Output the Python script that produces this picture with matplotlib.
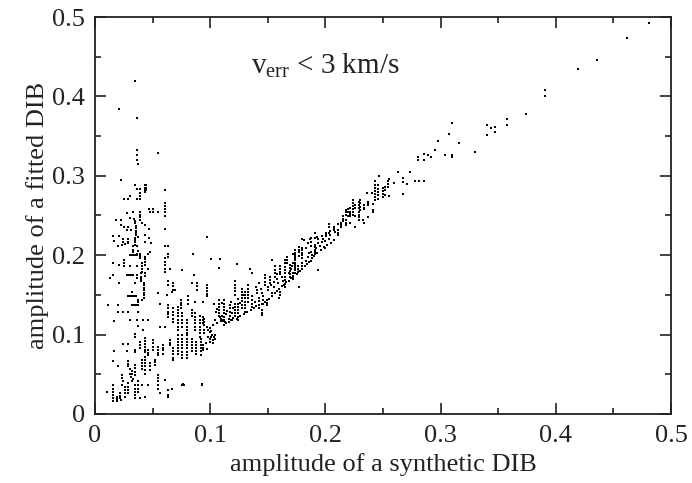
import matplotlib
matplotlib.use("Agg")
import matplotlib.pyplot as plt
from matplotlib.ticker import MultipleLocator, FuncFormatter

plt.rcParams['font.family'] = ['Liberation Serif', 'DejaVu Serif']
plt.rcParams['mathtext.fontset'] = 'custom'
plt.rcParams['mathtext.rm'] = 'Liberation Serif'
plt.rcParams['mathtext.it'] = 'Liberation Serif'

# ---- data: (synthetic amplitude, fitted amplitude) ----
outlier_pts = [
    (0.0347,0.419),(0.0208,0.384),(0.0362,0.373),(0.0547,0.329),(0.0362,0.332),(0.0362,0.326),
    (0.0362,0.320),(0.0376,0.315),(0.0223,0.295),
]

cloud_pts = [
    (0.0226,0.295),(0.0347,0.288),(0.0362,0.284),(0.0390,0.284),(0.0434,0.288),(0.0434,0.285),(0.0434,0.282),
    (0.0434,0.279),(0.0443,0.288),(0.0443,0.285),(0.0443,0.282),(0.0608,0.282),(0.0304,0.275),(0.0255,0.271),
    (0.0284,0.271),(0.0362,0.271),(0.0390,0.271),(0.0390,0.278),(0.0390,0.275),(0.0608,0.266),(0.0608,0.262),
    (0.0608,0.258),(0.0608,0.254),(0.0608,0.249),(0.0469,0.258),(0.0500,0.258),(0.0544,0.255),(0.0333,0.255),
    (0.0390,0.255),(0.0390,0.251),(0.0390,0.248),(0.0390,0.244),(0.0275,0.253),(0.0304,0.247),(0.0179,0.244),
    (0.0226,0.244),(0.0340,0.246),(0.0345,0.243),(0.0350,0.240),(0.0355,0.237),(0.0357,0.234),(0.0357,0.231),
    (0.0357,0.228),(0.0357,0.225),(0.0347,0.222),(0.0347,0.219),(0.0347,0.216),(0.0347,0.213),(0.0405,0.240),
    (0.0434,0.238),(0.0226,0.238),(0.0255,0.236),(0.0289,0.235),(0.0275,0.232),(0.0313,0.232),(0.0472,0.233),
    (0.0608,0.233),(0.0159,0.224),(0.0208,0.224),(0.0246,0.221),(0.0246,0.217),(0.0284,0.221),(0.0284,0.217),
    (0.0376,0.223),(0.0434,0.225),(0.0469,0.222),(0.0165,0.218),(0.0200,0.211),(0.0235,0.213),(0.0260,0.214),
    (0.0289,0.215),(0.0333,0.211),(0.0333,0.207),(0.0362,0.212),(0.0434,0.217),(0.0486,0.215),(0.0608,0.211),
    (0.0637,0.211),(0.0477,0.204),(0.0362,0.202),(0.0854,0.202),(0.0970,0.223),(0.0504,0.255),(0.0477,0.254),
    (0.0304,0.200),(0.0318,0.200),(0.0333,0.200),(0.0347,0.200),(0.0362,0.200),(0.0333,0.204),(0.0376,0.205),
    (0.0390,0.202),(0.0390,0.199),(0.0390,0.196),(0.0434,0.198),(0.0434,0.195),(0.0434,0.191),(0.0434,0.188),
    (0.0463,0.202),(0.0631,0.202),(0.0631,0.198),(0.0159,0.190),(0.0208,0.188),(0.0255,0.194),(0.0255,0.190),
    (0.0255,0.186),(0.0304,0.186),(0.0362,0.186),(0.0405,0.190),(0.0405,0.186),(0.0405,0.183),(0.0405,0.179),
    (0.0463,0.183),(0.0608,0.196),(0.0608,0.192),(0.0608,0.188),(0.0608,0.183),(0.0608,0.179),(0.0651,0.183),
    (0.0758,0.181),(0.0130,0.171),(0.0159,0.175),(0.0275,0.175),(0.0289,0.175),(0.0304,0.175),(0.0318,0.175),
    (0.0333,0.175),(0.0362,0.175),(0.0362,0.171),(0.0400,0.177),(0.0400,0.173),(0.0400,0.170),(0.0400,0.167),
    (0.0434,0.177),(0.0434,0.174),(0.0208,0.165),(0.0347,0.165),(0.0428,0.165),(0.0428,0.162),(0.0428,0.159),
    (0.0428,0.156),(0.0428,0.153),(0.0428,0.150),(0.0428,0.146),(0.0637,0.167),(0.0637,0.163),(0.0680,0.165),
    (0.0680,0.161),(0.0680,0.156),(0.0859,0.175),(0.0839,0.165),(0.0883,0.165),(0.0883,0.161),(0.0883,0.156),
    (0.0290,0.148),(0.0305,0.148),(0.0320,0.148),(0.0340,0.148),(0.0360,0.148),(0.0324,0.154),(0.0376,0.144),
    (0.0376,0.141),(0.0376,0.137),(0.0405,0.144),(0.0550,0.152),(0.0622,0.150),(0.0666,0.154),(0.0694,0.156),
    (0.0116,0.137),(0.0197,0.137),(0.0318,0.137),(0.0333,0.137),(0.0347,0.137),(0.0362,0.137),(0.0203,0.129),
    (0.0246,0.129),(0.0290,0.129),(0.0376,0.129),(0.0564,0.139),(0.0637,0.137),(0.0637,0.133),(0.0637,0.129),
    (0.0637,0.126),(0.0637,0.122),(0.0168,0.117),(0.0304,0.118),(0.0362,0.118),(0.0420,0.118),(0.0457,0.118),
    (0.0370,0.111),(0.0347,0.101),(0.0420,0.106),(0.0564,0.110),(0.0608,0.110),
    (0.1085,0.195),(0.1229,0.189),(0.1938,0.181),(0.1600,0.146),
]

band_low_pts = [
    (0.0680,0.133),(0.0680,0.129),(0.0680,0.125),(0.0680,0.120),(0.0680,0.116),
    (0.0718,0.135),(0.0718,0.131),(0.0718,0.127),(0.0718,0.123),(0.0718,0.118),(0.0718,0.114),(0.0718,0.110),(0.0718,0.106),
    (0.0746,0.144),(0.0746,0.140),(0.0746,0.137),(0.0746,0.133),
    (0.0758,0.127),(0.0758,0.123),(0.0758,0.118),(0.0758,0.114),(0.0758,0.110),
    (0.0796,0.118),(0.0796,0.114),(0.0796,0.110),(0.0796,0.106),(0.0796,0.102),(0.0796,0.099),(0.0796,0.095),
    (0.0810,0.148),(0.0810,0.144),(0.0810,0.139),
    (0.0839,0.131),(0.0839,0.127),(0.0839,0.123),
    (0.0868,0.141),(0.0868,0.127),(0.0868,0.122),(0.0868,0.118),(0.0868,0.114),(0.0868,0.110),(0.0868,0.106),
    (0.0911,0.123),(0.0911,0.118),(0.0911,0.114),(0.0911,0.110),(0.0911,0.106),(0.0911,0.102),(0.0911,0.097),
    (0.0940,0.141),(0.0949,0.120),(0.0949,0.116),(0.0949,0.112),(0.0949,0.106),(0.0949,0.102),
    (0.0347,0.097),(0.0246,0.088),(0.0283,0.088),(0.0168,0.079),(0.0275,0.079),(0.0347,0.081),(0.0347,0.078),
    (0.0390,0.091),(0.0390,0.087),(0.0390,0.083),
    (0.0434,0.096),(0.0434,0.092),(0.0434,0.088),(0.0434,0.085),(0.0434,0.081),(0.0434,0.078),
    (0.0463,0.081),(0.0463,0.077),(0.0463,0.074),
    (0.0500,0.093),(0.0500,0.089),(0.0500,0.085),(0.0500,0.081),
    (0.0544,0.085),(0.0544,0.081),(0.0544,0.077),(0.0544,0.074),
    (0.0593,0.087),(0.0593,0.083),(0.0593,0.080),(0.0593,0.076),
    (0.0651,0.093),(0.0651,0.090),(0.0651,0.087),
    (0.0680,0.083),(0.0680,0.079),(0.0680,0.075),(0.0680,0.071),(0.0680,0.068),
    (0.0718,0.099),(0.0718,0.095),(0.0718,0.091),(0.0718,0.087),(0.0718,0.083),(0.0718,0.079),(0.0718,0.076),
    (0.0752,0.099),(0.0752,0.095),(0.0752,0.091),(0.0752,0.087),(0.0752,0.083),(0.0752,0.078),(0.0752,0.074),(0.0752,0.070),
    (0.0796,0.091),(0.0796,0.087),(0.0796,0.083),(0.0796,0.078),(0.0796,0.074),(0.0796,0.070),
    (0.0839,0.095),(0.0839,0.091),(0.0839,0.087),(0.0839,0.083),(0.0839,0.079),
    (0.0877,0.091),(0.0877,0.087),(0.0877,0.083),(0.0877,0.079),(0.0877,0.076),
    (0.0920,0.095),(0.0920,0.091),(0.0920,0.087),(0.0920,0.083),(0.0920,0.079),(0.0920,0.074),
    (0.0940,0.087),(0.0940,0.083),
    (0.0153,0.067),(0.0203,0.060),(0.0289,0.067),(0.0289,0.063),(0.0289,0.060),
    (0.0347,0.062),(0.0347,0.058),(0.0347,0.053),(0.0347,0.049),
    (0.0405,0.068),(0.0405,0.064),(0.0405,0.060),(0.0405,0.057),
    (0.0434,0.072),(0.0434,0.068),(0.0434,0.064),(0.0434,0.060),(0.0434,0.055),(0.0434,0.051),
    (0.0477,0.064),(0.0477,0.060),(0.0477,0.055),
    (0.0521,0.068),(0.0521,0.065),(0.0521,0.062),
    (0.0550,0.049),(0.0550,0.045),(0.0550,0.041),(0.0550,0.036),(0.0550,0.032),
    (0.0608,0.043),(0.0665,0.032),(0.0758,0.037),(0.0637,0.024),(0.0564,0.026),
    (0.0305,0.057),(0.0318,0.054),(0.0325,0.050),(0.0310,0.047),(0.0330,0.044),(0.0318,0.041),(0.0300,0.050),
    (0.0231,0.049),(0.0231,0.045),(0.0245,0.041),(0.0231,0.037),
    (0.0101,0.028),
    (0.0159,0.036),(0.0159,0.032),(0.0159,0.028),(0.0159,0.024),(0.0159,0.020),(0.0159,0.016),
    (0.0188,0.022),(0.0188,0.019),(0.0188,0.016),
    (0.0217,0.026),(0.0217,0.023),(0.0217,0.020),(0.0230,0.018),
    (0.0260,0.034),(0.0260,0.030),(0.0260,0.026),(0.0260,0.022),
    (0.0289,0.039),(0.0289,0.034),(0.0289,0.030),(0.0289,0.026),
    (0.0347,0.036),(0.0347,0.032),(0.0347,0.028),(0.0347,0.024),(0.0347,0.020),
    (0.0376,0.041),(0.0376,0.036),(0.0376,0.032),(0.0376,0.028),
    (0.0405,0.036),(0.0434,0.022),(0.0463,0.036),(0.0390,0.020),
    (0.0761,0.038),(0.0926,0.038),(0.0637,0.030),(0.0773,0.036),(0.0638,0.021),
    (0.0940,0.081),(0.0970,0.082),(0.0980,0.097),(0.0995,0.094),(0.1000,0.091),(0.1010,0.097),
    (0.1027,0.093),(0.1027,0.089),(0.1041,0.099),(0.0960,0.089),(0.0925,0.037),
]

band_mid_pts = [
    (0.1004,0.195),(0.1076,0.184),(0.1345,0.182),(0.1360,0.177),
    (0.0969,0.162),(0.0969,0.159),(0.0969,0.155),(0.0969,0.151),(0.0969,0.148),
    (0.0940,0.141),(0.1033,0.139),
    (0.1080,0.144),(0.1080,0.139),(0.1080,0.135),(0.1080,0.131),(0.1080,0.127),(0.1080,0.123),
    (0.1122,0.144),(0.1122,0.139),(0.1122,0.135),(0.1122,0.131),(0.1122,0.127),(0.1122,0.122),(0.1122,0.118),
    (0.1171,0.137),(0.1171,0.133),(0.1171,0.129),(0.1171,0.123),
    (0.1215,0.167),(0.1215,0.163),(0.1215,0.159),(0.1215,0.155),(0.1215,0.150),
    (0.1215,0.139),(0.1215,0.135),(0.1215,0.131),(0.1215,0.127),(0.1215,0.123),
    (0.1244,0.139),(0.1244,0.135),(0.1244,0.131),(0.1244,0.127),(0.1244,0.122),(0.1244,0.118),
    (0.1273,0.158),(0.1273,0.154),(0.1273,0.150),(0.1273,0.146),(0.1273,0.142),(0.1273,0.137),(0.1273,0.133),
    (0.1302,0.154),(0.1302,0.150),(0.1302,0.146),(0.1302,0.141),(0.1302,0.137),(0.1302,0.133),(0.1302,0.129),
    (0.1331,0.162),(0.1331,0.158),(0.1331,0.154),(0.1331,0.150),(0.1331,0.146),(0.1331,0.141),
    (0.1360,0.148),(0.1360,0.144),(0.1360,0.139),(0.1360,0.135),
    (0.1389,0.141),(0.1403,0.153),
    (0.1426,0.146),(0.1426,0.142),(0.1426,0.137),(0.1426,0.165),
    (0.1446,0.131),(0.1446,0.127),(0.1446,0.125),
    (0.1460,0.148),(0.1460,0.144),(0.1460,0.139),
    (0.1489,0.144),(0.1489,0.140),(0.1489,0.137),
    (0.1475,0.175),(0.1475,0.171),(0.1475,0.166),(0.1475,0.162),
    (0.1519,0.173),(0.1519,0.169),(0.1519,0.165),
    (0.1533,0.194),(0.1533,0.152),
    (0.1562,0.186),(0.1562,0.181),(0.1562,0.177),(0.1562,0.173),
    (0.1606,0.186),(0.1606,0.182),(0.1606,0.179),(0.1606,0.154),(0.1606,0.150),
    (0.1650,0.194),(0.1650,0.190),(0.1650,0.185),(0.1650,0.181),(0.1650,0.177),(0.1650,0.173),
    (0.1650,0.169),(0.1650,0.164),(0.1650,0.160),
    (0.1670,0.198),(0.1670,0.194),(0.1670,0.190),
    (0.1692,0.188),(0.1692,0.184),(0.1692,0.180),(0.1692,0.176),(0.1692,0.173),
    (0.1736,0.202),(0.1736,0.198),(0.1736,0.194),(0.1736,0.190),(0.1736,0.186),(0.1736,0.181),(0.1736,0.177),
    (0.1765,0.186),(0.1765,0.182),(0.1765,0.179),
    (0.1773,0.160),(0.1794,0.206),(0.1794,0.203),(0.1794,0.200),
    (0.1085,0.122),(0.1095,0.120),(0.1105,0.118),(0.1115,0.117),(0.1130,0.116),(0.1100,0.124),(0.1090,0.117),
    (0.0970,0.110),(0.0985,0.106),(0.1000,0.103),(0.1015,0.100),(0.1030,0.097),(0.1041,0.094),(0.0995,0.108),
    (0.1010,0.104),(0.0940,0.122),(0.0940,0.118),(0.0940,0.114),(0.1160,0.120),(0.1180,0.119),
    (0.1120,0.112),(0.1140,0.114),(0.1160,0.116),(0.1190,0.118),(0.1200,0.121),(0.1230,0.120),(0.1260,0.124),
    (0.1290,0.126),(0.1320,0.128),(0.1350,0.131),(0.1380,0.133),(0.1400,0.136),(0.1420,0.134),(0.1450,0.138),
    (0.1480,0.141),(0.1510,0.145),(0.1540,0.148),(0.1560,0.152),(0.1580,0.155),(0.1600,0.158),(0.1620,0.161),
    (0.1640,0.163),(0.1660,0.166),(0.1680,0.168),(0.1700,0.171),(0.1720,0.173),(0.1750,0.176),(0.1780,0.180),
    (0.1800,0.183),(0.1820,0.186),(0.1840,0.189),(0.1860,0.192),(0.1880,0.196),(0.1900,0.199),(0.1930,0.203),
    (0.1960,0.207),(0.1990,0.210),(0.2010,0.213),
    (0.1400,0.160),(0.1410,0.156),(0.1440,0.158),(0.1450,0.153),(0.1500,0.160),(0.1500,0.156),(0.1530,0.163),
    (0.1550,0.166),(0.1550,0.160),(0.1580,0.170),(0.1590,0.165),(0.1620,0.172),(0.1630,0.168),(0.1580,0.176),
    (0.1610,0.176),(0.1680,0.178),(0.1700,0.183),(0.1710,0.186),(0.1800,0.186),(0.1830,0.193),(0.1850,0.198),
    (0.1860,0.203),(0.1880,0.200),(0.1920,0.209),(0.1950,0.212),(0.1970,0.216),(0.2000,0.218),
    (0.1050,0.128),(0.1060,0.132),(0.1100,0.140),(0.1140,0.126),(0.1150,0.130),(0.1190,0.127),(0.1200,0.133),
    (0.1260,0.140),(0.1240,0.145),(0.1290,0.150),(0.1180,0.141),(0.1040,0.118),(0.1060,0.114),(0.1020,0.112),
]

band_high_pts = [
    (0.2367,0.267),(0.2367,0.265),(0.2367,0.263),(0.2413,0.265),(0.2413,0.255),
    (0.2335,0.263),(0.2335,0.260),(0.2335,0.258),
    (0.2292,0.267),(0.2292,0.263),(0.2292,0.259),(0.2292,0.255),(0.2292,0.251),(0.2292,0.248),(0.2292,0.244),
    (0.2260,0.263),(0.2260,0.259),(0.2260,0.249),(0.2335,0.241),(0.2370,0.248),
    (0.2216,0.259),(0.2216,0.255),(0.2216,0.252),(0.2216,0.249),(0.2216,0.240),
    (0.2179,0.257),(0.2179,0.254),(0.2179,0.251),(0.2179,0.244),(0.2179,0.241),(0.2179,0.238),
    (0.2260,0.235),(0.2135,0.241),(0.2135,0.238),(0.2135,0.236),(0.2106,0.239),(0.2106,0.228),
    (0.2072,0.236),(0.2072,0.233),(0.2072,0.232),(0.2034,0.239),(0.2034,0.236),(0.2028,0.228),
    (0.2002,0.228),(0.2002,0.226),(0.2002,0.224),(0.1968,0.224),(0.2034,0.220),(0.2077,0.219),(0.2046,0.215),
    (0.1907,0.228),(0.1907,0.222),(0.1878,0.222),(0.1938,0.220),(0.1938,0.215),(0.1878,0.217),(0.1849,0.215),
    (0.1907,0.213),(0.1907,0.210),(0.1907,0.207),(0.1907,0.204),(0.1907,0.202),
    (0.1878,0.211),(0.1878,0.204),(0.1832,0.209),(0.1800,0.221),(0.1997,0.209),(0.1878,0.193),
    (0.1800,0.209),(0.1800,0.207),(0.1773,0.210),(0.1773,0.207),(0.1773,0.204),
    (0.1738,0.207),(0.1738,0.203),(0.1738,0.200),(0.1716,0.202),(0.1716,0.190),
    (0.1738,0.196),(0.1738,0.188),(0.1738,0.186),(0.1738,0.184),
    (0.1773,0.199),(0.1800,0.196),(0.1800,0.190),(0.1773,0.180),
    (0.1721,0.177),(0.1721,0.174),(0.1721,0.170),
    (0.2468,0.300),(0.2430,0.293),(0.2430,0.289),(0.2430,0.285),(0.2430,0.281),(0.2430,0.277),(0.2430,0.273),
    (0.2430,0.270),(0.2460,0.288),(0.2460,0.284),(0.2460,0.280),(0.2460,0.276),(0.2460,0.271),
    (0.2503,0.285),(0.2503,0.281),(0.2503,0.277),(0.2503,0.273),(0.2540,0.293),(0.2540,0.290),(0.2540,0.286),
    (0.2358,0.278),(0.2402,0.278),(0.2300,0.270),(0.2300,0.266),(0.2300,0.261),(0.2300,0.257),
    (0.2243,0.270),(0.2243,0.266),(0.2243,0.262),(0.2243,0.258),(0.2243,0.254),(0.2243,0.251),
    (0.2200,0.258),(0.2200,0.254),(0.2200,0.250),(0.2156,0.250),(0.2156,0.246),(0.2156,0.243),
    (0.2113,0.232),(0.2113,0.225),(0.2083,0.229),(0.2040,0.230),(0.2040,0.226),
    (0.1980,0.221),(0.1924,0.223),(0.1866,0.221),(0.1810,0.219),(0.2257,0.235),(0.2329,0.244),(0.2416,0.257),
    (0.481,0.493),(0.4615,0.473),(0.4358,0.446),(0.419,0.435),(0.391,0.408),(0.391,0.401),(0.3744,0.378),
    (0.3576,0.371),(0.3576,0.364),(0.3406,0.364),(0.3438,0.360),(0.347,0.362),(0.347,0.355),(0.3406,0.351),
    (0.330,0.330),(0.310,0.366),(0.307,0.353),(0.316,0.341),(0.298,0.344),(0.2948,0.333),(0.304,0.326),
    (0.310,0.326),(0.310,0.324),(0.2807,0.324),(0.2807,0.320),(0.2856,0.328),(0.2856,0.320),(0.2887,0.326),
    (0.2917,0.324),(0.2627,0.305),(0.2734,0.305),(0.267,0.297),(0.267,0.292),(0.2704,0.290),(0.2778,0.293),
    (0.2812,0.294),(0.2856,0.293),(0.267,0.277),(0.2595,0.291),(0.2552,0.296),(0.252,0.286),(0.252,0.282),
    (0.2552,0.275),(0.252,0.276),
]

x_ticks = [0, 0.1, 0.2, 0.3, 0.4, 0.5]
y_ticks = [0, 0.1, 0.2, 0.3, 0.4, 0.5]

fig = plt.figure(figsize=(6.92, 4.83), dpi=100)
ax = fig.add_axes([95/692, 1-414/483, 576/692, 397/483])

for grp in (outlier_pts, cloud_pts, band_low_pts, band_mid_pts, band_high_pts):
    xs = [p[0] for p in grp]
    ys = [p[1] for p in grp]
    ax.scatter(xs, ys, s=1.6, marker='s', c='black', linewidths=0)

ax.set_xlim(0, 0.5)
ax.set_ylim(0, 0.5)
ax.set_xticks(x_ticks)
ax.set_yticks(y_ticks)
ax.xaxis.set_minor_locator(MultipleLocator(0.05))
ax.yaxis.set_minor_locator(MultipleLocator(0.05))
fmt = FuncFormatter(lambda v, p: '0' if abs(v) < 1e-9 else f'{v:.1f}')
ax.xaxis.set_major_formatter(fmt)
ax.yaxis.set_major_formatter(fmt)
ax.tick_params(which='both', direction='in', top=True, right=True, width=1.2, colors='#222222',
               labelcolor='#222222', labelsize=19)
ax.tick_params(which='major', length=8)
ax.tick_params(which='minor', length=4)
ax.tick_params(axis='x', which='major', pad=8)
ax.tick_params(axis='y', which='major', pad=7)
for sp in ax.spines.values():
    sp.set_linewidth(1.3)
    sp.set_color('#222222')

ax.set_xlabel('amplitude of a synthetic DIB', fontsize=19, color='#222222', labelpad=4)
ax.set_ylabel('amplitude of a fitted DIB', fontsize=19, color='#222222', labelpad=2)
ax.text(0.135, 0.428, r'$\mathregular{v_{err}}$ < 3 km/s', fontsize=21, color='#222222')

fig.savefig('out.png', dpi=100)
